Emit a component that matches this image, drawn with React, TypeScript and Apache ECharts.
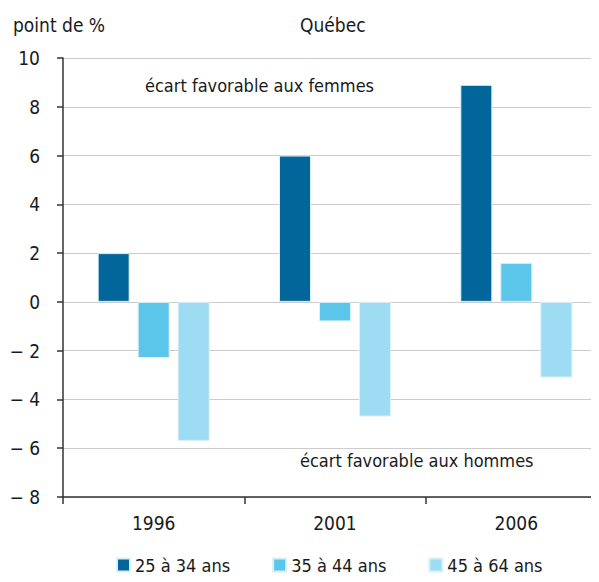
import React, { useEffect, useRef } from "react";
import * as echarts from "echarts";

const categories = ["1996", "2001", "2006"];
const seriesNames = ["25 à 34 ans", "35 à 44 ans", "45 à 64 ans"];
const values25 = [2, 6, 8.9];
const values35 = [-2.3, -0.8, 1.6];
const values45 = [-5.7, -4.7, -3.1];
const colors = ["#02669A", "#5BC5EA", "#9DDCF3"];

const FONT = "'Liberation Sans Narrow', 'DejaVu Sans Condensed', 'Roboto', sans-serif";

export default function App() {
  const ref = useRef<HTMLDivElement>(null);
  useEffect(() => {
    if (!ref.current) return;
    const chart = echarts.init(ref.current, undefined, { renderer: "svg" });
    const data = [values25, values35, values45];
    chart.setOption({
      animation: false,
      textStyle: { fontFamily: FONT, color: "#1a1a1a" },
      grid: { left: 63, top: 58, bottom: 85, right: 0, containLabel: false },
      legend: {
        bottom: 3,
        left: 111,
        itemWidth: 13,
        itemHeight: 13,
        itemGap: 42,
        icon: "rect",
        textStyle: { fontFamily: FONT, fontSize: 18, color: "#1a1a1a" },
        data: seriesNames,
      },
      graphic: [
        { type: "text", left: 13, top: 15, style: { text: "point de %", font: `19px ${FONT}`, fill: "#1a1a1a" } },
        { type: "text", left: 300, top: 15, style: { text: "Québec", font: `19px ${FONT}`, fill: "#1a1a1a" } },
        { type: "text", left: 145, top: 76, style: { text: "écart favorable aux femmes", font: `18px ${FONT}`, fill: "#1a1a1a" } },
        { type: "text", left: 300, top: 451, style: { text: "écart favorable aux hommes", font: `18px ${FONT}`, fill: "#1a1a1a" } },
      ],
      xAxis: [
        {
          type: "category",
          data: categories,
          position: "bottom",
          axisLine: { show: false },
          axisTick: { show: false },
          axisLabel: { fontSize: 19, color: "#1a1a1a", fontFamily: FONT, margin: 16 },
        },
        {
          type: "category",
          data: categories,
          position: "bottom",
          axisLine: { onZero: true, lineStyle: { color: "#333", width: 1.5 } },
          axisTick: { show: true, length: 7, inside: false, lineStyle: { color: "#333", width: 1.5 } },
          axisLabel: { show: false },
        },
      ],
      yAxis: {
        type: "value",
        min: -8,
        max: 10,
        interval: 2,
        axisLine: { show: true, lineStyle: { color: "#333", width: 1.5 } },
        axisTick: { show: true, length: 6, lineStyle: { color: "#333", width: 1.5 } },
        splitLine: { show: true, lineStyle: { color: "#cccccc", width: 1 } },
        axisLabel: {
          fontSize: 19,
          color: "#1a1a1a",
          fontFamily: FONT,
          margin: 23,
          formatter: (v: number) => (v < 0 ? "\u2212 " + Math.abs(v) : String(v)),
        },
      },
      series: seriesNames.map((name, i) => ({
        name,
        type: "bar",
        xAxisIndex: 0,
        data: data[i],
        barWidth: 32,
        barGap: "25%",
        itemStyle: { color: colors[i], borderColor: "#d8f0fa", borderWidth: 1 },
        z: 1,
      })),
    });
    return () => chart.dispose();
  }, []);
  return <div ref={ref} style={{ width: 607, height: 582, margin: -8 }} />;
}
